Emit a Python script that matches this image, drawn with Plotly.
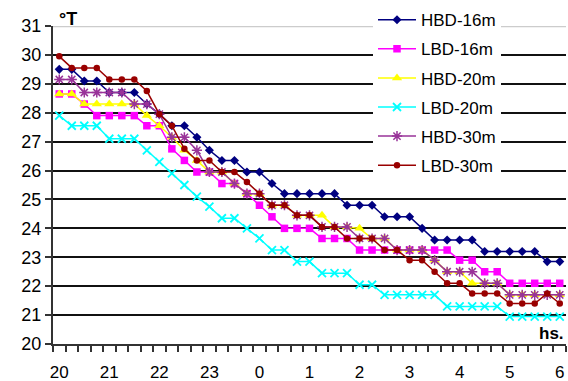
import plotly.graph_objects as go

# 15-minute readings from 20:00 to 06:00 (41 points)
times = [f"{(20 + (i * 15) // 60) % 24:02d}:{(i * 15) % 60:02d}" for i in range(41)]
tick_labels = ["20", "21", "22", "23", "0", "1", "2", "3", "4", "5", "6"]
tick_index = [0, 4, 8, 12, 16, 20, 24, 28, 32, 36, 40]

hbd16 = [29.5, 29.5, 29.1, 29.1, 28.7, 28.7, 28.7, 28.3, 27.95, 27.55, 27.55, 27.15, 26.7, 26.35,
         26.35, 25.95, 25.95, 25.55, 25.2, 25.2, 25.2, 25.2, 25.2, 24.8, 24.8, 24.8, 24.4, 24.4,
         24.4, 24.0, 23.6, 23.6, 23.6, 23.6, 23.2, 23.2, 23.2, 23.2, 23.2, 22.85, 22.85]
lbd16 = [28.65, 28.65, 28.3, 27.9, 27.9, 27.9, 27.9, 27.55, 27.55, 26.75, 26.35, 25.95, 25.95, 25.55,
         25.55, 25.2, 24.8, 24.4, 24.0, 24.0, 24.0, 23.65, 23.65, 23.65, 23.25, 23.25, 23.25, 23.25,
         23.25, 23.25, 23.25, 23.25, 22.9, 22.9, 22.5, 22.5, 22.1, 22.1, 22.1, 22.1, 22.1]
hbd20 = [28.65, 28.65, 28.3, 28.3, 28.3, 28.3, 28.3, 27.9, 27.55, 27.15, 26.7, 26.35, 25.95, 25.95,
         25.55, 25.2, 25.2, 24.8, 24.8, 24.45, 24.45, 24.45, 24.05, 24.05, 24.0, 23.65, 23.65, 23.25,
         23.25, 23.25, 22.9, 22.5, 22.5, 22.1, 22.1, 22.1, 21.7, 21.7, 21.7, 21.7, 21.7]
lbd20 = [27.9, 27.55, 27.55, 27.55, 27.1, 27.1, 27.1, 26.7, 26.3, 25.9, 25.5, 25.1, 24.75, 24.35,
         24.35, 24.0, 23.65, 23.25, 23.25, 22.85, 22.85, 22.45, 22.45, 22.45, 22.05, 22.05, 21.7, 21.7,
         21.7, 21.7, 21.7, 21.3, 21.3, 21.3, 21.3, 21.3, 20.95, 20.95, 20.95, 20.95, 20.95]
hbd30 = [29.15, 29.15, 28.7, 28.7, 28.7, 28.7, 28.3, 28.3, 27.95, 27.15, 27.15, 26.7, 25.95, 25.95,
         25.55, 25.2, 25.2, 24.8, 24.8, 24.45, 24.45, 24.05, 24.05, 24.05, 23.65, 23.65, 23.65, 23.25,
         23.25, 23.25, 22.9, 22.5, 22.5, 22.5, 22.1, 22.1, 21.7, 21.7, 21.7, 21.7, 21.7]
lbd30 = [29.95, 29.55, 29.55, 29.55, 29.15, 29.15, 29.15, 28.75, 27.95, 27.55, 26.75, 26.35, 26.35, 25.95,
         25.95, 25.6, 25.2, 24.8, 24.8, 24.45, 24.45, 24.05, 24.05, 23.65, 23.65, 23.65, 23.25, 23.25,
         22.9, 22.9, 22.5, 22.1, 22.1, 21.75, 21.75, 21.75, 21.4, 21.4, 21.4, 21.75, 21.4]

FONT = "Liberation Sans, Arial, sans-serif"
x = list(range(len(times)))

series = [
    ("HBD-16m", hbd16, "#000080", dict(symbol="diamond", size=7, color="#000080")),
    ("LBD-16m", lbd16, "#FF00FF", dict(symbol="square", size=7.5, color="#FF00FF")),
    ("HBD-20m", hbd20, "#FFFF00", dict(symbol="triangle-up", size=9, color="#FFFF00")),
    ("LBD-20m", lbd20, "#00FFFF", dict(symbol="x-thin-open", size=8, color="#00FFFF",
                                       line=dict(color="#00FFFF", width=1.8))),
    ("HBD-30m", hbd30, "#993399", dict(symbol="asterisk-open", size=8.5, color="#993399",
                                       line=dict(color="#993399", width=1.5))),
    ("LBD-30m", lbd30, "#990000", dict(symbol="circle", size=6.5, color="#990000")),
]

fig = go.Figure()
for k, (name, vals, col, mk) in enumerate(series):
    fig.add_trace(go.Scatter(
        x=x, y=vals, name=name, mode="lines+markers",
        line=dict(color=col, width=1.5), marker=mk,
        legendgroup=f"g{k}", customdata=times,
    ))

fig.update_layout(
    width=568, height=381,
    margin=dict(l=53, r=2, t=24, b=37),
    paper_bgcolor="white", plot_bgcolor="white",
    font=dict(family=FONT, size=17, color="black"),
    showlegend=True,
    legend=dict(
        x=(373 - 53) / 513, xanchor="left",
        y=1 + 24 / 320, yanchor="top",
        bgcolor="white", borderwidth=0,
        font=dict(family=FONT, size=17, color="black"),
        itemwidth=38, tracegroupgap=4, traceorder="grouped",
        maxheight=400,
    ),
    xaxis=dict(
        range=[-0.5, 40.5], tickmode="array", tickvals=tick_index, ticktext=tick_labels,
        ticks="outside", ticklen=12, tickcolor="rgba(0,0,0,0)",
        showgrid=False, zeroline=False, automargin=False,
        showline=True, linecolor="#333333", linewidth=2,
        minor=dict(tick0=-0.5, dtick=1, ticks="outside", ticklen=6,
                   tickcolor="#333333", tickwidth=1.5, showgrid=False),
        tickfont=dict(family=FONT, size=17, color="black"),
    ),
    yaxis=dict(
        range=[20, 31], dtick=1, tick0=20, automargin=False,
        ticks="outside", ticklen=6, tickcolor="#333333", tickwidth=1.5,
        showgrid=True, gridcolor="#111111", gridwidth=1.6, zeroline=False,
        showline=True, linecolor="#333333", linewidth=2,
        tickfont=dict(family=FONT, size=18, color="black"),
    ),
    shapes=[dict(type="line", xref="paper", yref="y", x0=0, x1=1, y0=31, y1=31,
                 line=dict(color="#cccccc", width=2.5), layer="above")],
    annotations=[
        dict(text="<b>°T</b>", xref="paper", yref="paper", x=(57 - 53) / 513, y=1 + 7 / 320,
             xanchor="left", yanchor="middle", showarrow=False,
             font=dict(family=FONT, size=18, color="black")),
        dict(text="<b>hs.</b>", xref="paper", yref="paper", x=1, y=11 / 320,
             xanchor="right", yanchor="middle", showarrow=False,
             font=dict(family=FONT, size=17, color="black")),
    ],
)

fig.write_html("out.html", config={"displayModeBar": False},
               post_script="document.body.style.margin='0';document.body.style.overflow='hidden';")
